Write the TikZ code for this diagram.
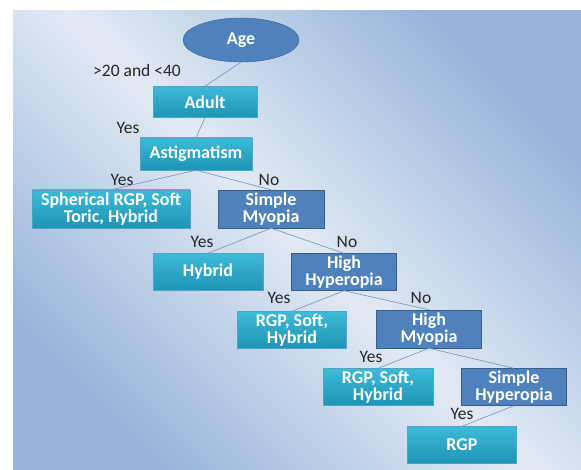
\documentclass[tikz,border=0pt]{standalone}
\usepackage{fontspec}
\setmainfont{Carlito}
\usetikzlibrary{shapes.geometric}

\definecolor{bgdark}{RGB}{150,180,218}
\definecolor{bglight}{RGB}{226,234,244}
\definecolor{tealtop}{RGB}{62,186,216}
\definecolor{tealbot}{RGB}{30,148,182}
\definecolor{tealline}{RGB}{80,165,195}
\definecolor{testfill}{RGB}{79,129,189}
\definecolor{testline}{RGB}{56,93,138}
\definecolor{edgecol}{RGB}{125,155,198}

\tikzset{
	leafbox/.style={shape=rectangle, draw=tealline, align=center, top color=tealtop, bottom color=tealbot,
		text=white, font=\bfseries\fontsize{18}{17}\selectfont, inner sep=0pt, minimum height=37pt},
	testbox/.style={shape=rectangle, draw=testline, align=center, fill=testfill,
		text=white, font=\bfseries\fontsize{18}{17}\selectfont, inner sep=0pt, minimum height=37pt, minimum width=105pt},
	answer/.style={text=black!85, font=\fontsize{17.5}{17}\selectfont, inner sep=0pt},
	branch/.style={draw=edgecol, line width=0.7pt}
}

\begin{document}
\begin{tikzpicture}[x=1pt, y=-1pt]
	\useasboundingbox (0,0) rectangle (581,470);
	\shade[top color=bgdark, bottom color=bgdark, middle color=bglight, shading angle=-45]
		(13,11) rectangle (581,470);

	\node (z1)[shape=ellipse, draw=testline, fill=testfill, text=white, font=\bfseries\fontsize{18}{17}\selectfont,
		minimum width=116pt, minimum height=44pt, inner sep=0pt]
	at (241,40) {Age};

	\node (z2)[leafbox, minimum width=104pt, minimum height=31pt]
	at (205,102) {Adult};

	\node (z3)[leafbox, minimum width=112pt, minimum height=32pt]
	at (196,154) {Astigmatism};

	\node (z4)[leafbox, minimum width=158pt, minimum height=38pt]
	at (111,209) {
		Spherical RGP, Soft \\ Toric, Hybrid
	};

	\node (z5)[testbox, minimum width=106pt, minimum height=38pt]
	at (271,209) {
		Simple \\ Myopia
	};

	\node (z6)[leafbox, minimum width=110pt]
	at (208,272) {Hybrid};

	\node (z7)[testbox]
	at (344,272) {
		High \\ Hyperopia
	};

	\node (z8)[leafbox, minimum width=109pt]
	at (292,330) {
		RGP, Soft, \\ Hybrid
	};

	\node (z9)[testbox, minimum height=38pt]
	at (429,329) {
		High \\ Myopia
	};

	\node (z10)[leafbox, minimum width=110pt]
	at (378,387) {
		RGP, Soft, \\ Hybrid
	};

	\node (z11)[testbox]
	at (514,387) {
		Simple \\ Hyperopia
	};

	\node (z12)[leafbox, minimum width=109pt]
	at (462,445) {RGP};

	% answers on the branches
	\node (l1)[answer] at (137,70) {>20 and <40};
	\node (l2)[answer] at (128,128) {Yes};
	\node (l3)[answer] at (122,180) {Yes};
	\node (l4)[answer] at (269,180) {No};
	\node (l5)[answer] at (202,242) {Yes};
	\node (l6)[answer] at (347,242) {No};
	\node (l7)[answer] at (279,298) {Yes};
	\node (l8)[answer] at (421,298) {No};
	\node (l9)[answer] at (371,357) {Yes};
	\node (l10)[answer] at (462,414) {Yes};

	\draw[branch] (z1.south) -- (z2.north);
	\draw[branch] (z2.south) -- (z3.north);
	\draw[branch] (z3.south) -- (z4.north);
	\draw[branch] (z3.south) -- (z5.north);
	\draw[branch] (z5.south) -- (z6.north);
	\draw[branch] (z5.south) -- (z7.north);
	\draw[branch] (z7.south) -- (z8.north);
	\draw[branch] (z7.south) -- (z9.north);
	\draw[branch] (z9.south) -- (z10.north);
	\draw[branch] (z9.south) -- (z11.north);
	\draw[branch] (z11.south) -- (z12.north);
\end{tikzpicture}
\end{document}
